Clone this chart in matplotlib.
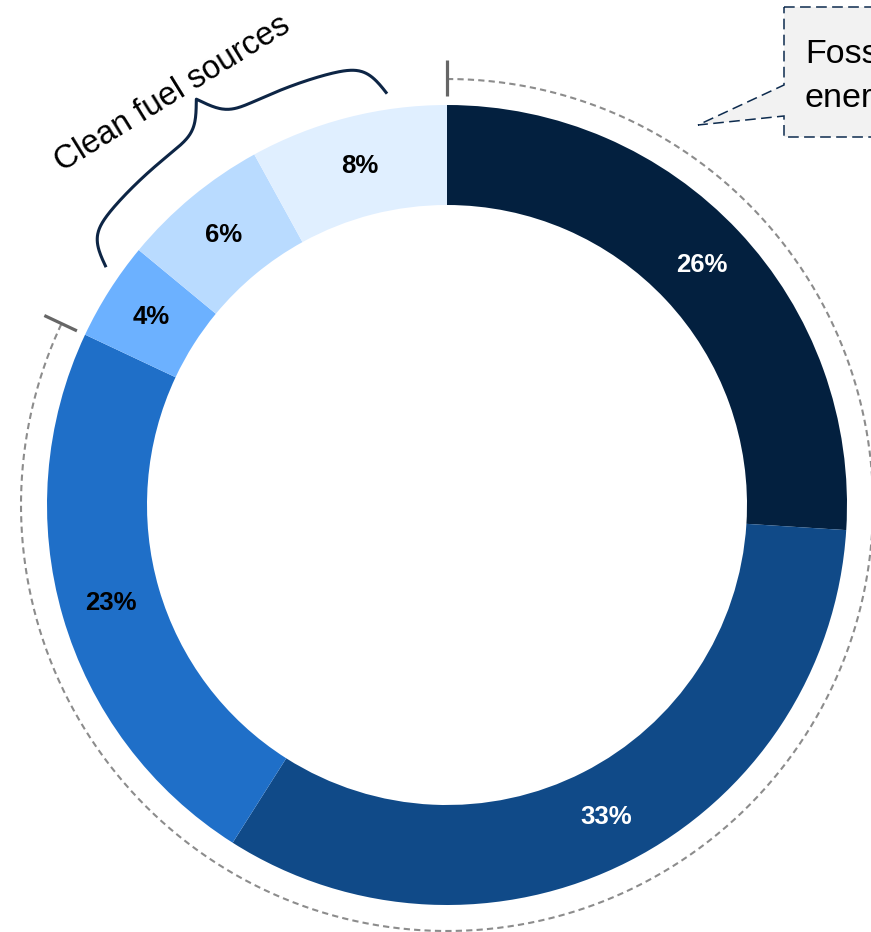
import numpy as np
import matplotlib.pyplot as plt

plt.rcParams['font.family'] = ['Liberation Sans', 'DejaVu Sans']

# Доли источников энергии (по часовой стрелке от верха)
shares = [26, 33, 23, 4, 6, 8]
colors = ['#03203f', '#104a88', '#1f6fc8', '#6cb1ff', '#b9dbff', '#e0efff']
label_colors = ['white', 'white', 'black', 'black', 'black', 'black']
fossil_share = 26 + 33 + 23
clean_label = 'Clean fuel sources'
fossil_lines = ['Fossil', 'energy']

# Геометрия в пикселях относительно центра кольца
R = 400
W = 100
cx, cy = 447, 505
fig_w, fig_h = 871, 932

fig = plt.figure(figsize=(fig_w / 100, fig_h / 100), dpi=100)
ax = fig.add_axes([0, 0, 1, 1])

wedges, texts, autotexts = ax.pie(
    shares, colors=colors, radius=R, startangle=90, counterclock=False,
    wedgeprops=dict(width=W, linewidth=0), autopct='%.0f%%',
    pctdistance=(R - W / 2) / R,
    textprops=dict(fontsize=18.5, fontweight='bold'))
for t, c in zip(autotexts, label_colors):
    t.set_color(c)

ax.set_xlim(-cx, fig_w - cx)
ax.set_ylim(-(fig_h - cy), cy)
ax.set_aspect('equal')
ax.axis('off')

# Пунктирная дуга вокруг ископаемых источников
end_ang = 90 - fossil_share / 100 * 360
th = np.radians(np.linspace(90, end_ang, 400))
r_arc = 426
ax.plot(r_arc * np.cos(th), r_arc * np.sin(th), color='#8c8c8c', lw=1.5,
        linestyle=(0, (3, 2)))

# Засечки на концах дуги
for a in [90, end_ang + 360]:
    a = np.radians(a)
    ax.plot([409 * np.cos(a), 445 * np.cos(a)], [409 * np.sin(a), 445 * np.sin(a)],
            color='#666666', lw=2.3, solid_capstyle='butt')

# Фигурная скобка для чистых источников
a0, a1 = 145.0, 98.4
n = 200
beta = 40.0
x_half = np.linspace(0, 0.5, n)
y_half = 1 / (1 + np.exp(-beta * (x_half - x_half[0]))) + \
    1 / (1 + np.exp(-beta * (x_half - x_half[-1])))
prof = np.concatenate([y_half, y_half[-2::-1]]) - 0.5
t = np.linspace(0, 1, len(prof))
ang = np.radians(a0 + (a1 - a0) * t)
rb = 417 + 60 * prof
ax.plot(rb * np.cos(ang), rb * np.sin(ang), color='#0d2545', lw=2.2)

mid = (a0 + a1) / 2
ta = np.radians(123.7)
ax.text(494 * np.cos(ta), 494 * np.sin(ta), clean_label, fontsize=23.5,
        rotation=mid - 90, rotation_mode='anchor',
        ha='center', va='center')

# Выноска "Fossil energy"
box = np.array([[337, 498], [520, 498], [520, 368], [337, 368],
                [337, 389], [251, 380], [337, 420], [337, 498]])
ax.fill(box[:, 0], box[:, 1], facecolor='#f2f2f2', edgecolor='#0d2b4e',
        lw=1.1, linestyle=(0, (7, 3.5)), clip_on=False)
ax.text(358, 442, fossil_lines[0], fontsize=24.5, va='baseline', ha='left')
ax.text(358, 398, fossil_lines[1], fontsize=24.5, va='baseline', ha='left')

fig.savefig('out.png', dpi=100)
